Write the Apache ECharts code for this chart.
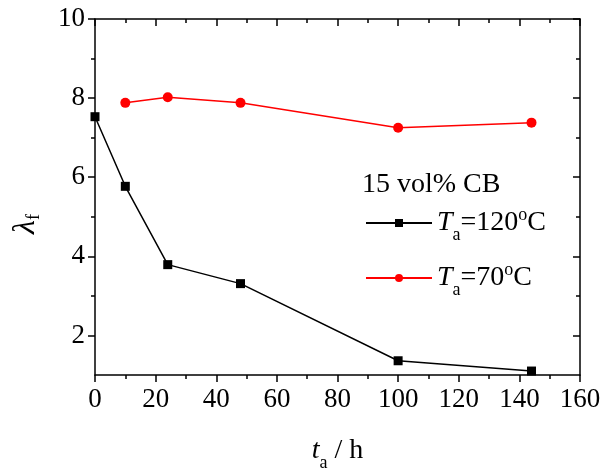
<!DOCTYPE html>
<html>
<head>
<meta charset="utf-8">
<script src="https://cdn.jsdelivr.net/npm/echarts@6/dist/echarts.min.js"></script>
<style>
    html, body {margin: 0; padding: 0; background: #fff;}
    #chart {width: 604px; height: 470px;}
</style>
</head>
<body>
<div id="chart"></div>
<script>
// annealing time t_a (h) and lambda_f
var ta120 = [0, 10, 24, 48, 100, 144];
var lam120 = [7.53, 5.77, 3.79, 3.31, 1.36, 1.1];
var ta70 = [10, 24, 48, 100, 144];
var lam70 = [7.88, 8.02, 7.88, 7.25, 7.38];
var yMajor = [2, 4, 6, 8, 10];
var yMinor = [3, 5, 7, 9];

function pairs(xs, ys) {
    return xs.map(function (x, i) { return [x, ys[i]]; });
}

var font = 'Liberation Serif';
var fs = 28;
var rich = {
    i: {fontFamily: font, fontSize: fs, fontStyle: 'italic', color: '#000'},
    n: {fontFamily: font, fontSize: fs, color: '#000'},
    s: {fontFamily: font, fontSize: 18, color: '#000', padding: [24, 0, 0, 0]},
    o: {fontFamily: font, fontSize: 18, color: '#000', padding: [0, 0, 16, 0]}
};

var chart = echarts.init(document.getElementById('chart'));
chart.setOption({
    animation: false,
    backgroundColor: '#fff',
    grid: {left: 95, right: 24, top: 19, bottom: 95, outerBoundsMode: 'none'},
    title: {
        text: '15 vol% CB', left: 357, top: 166,
        textStyle: {fontFamily: font, fontSize: fs, fontWeight: 'normal', color: '#000'}
    },
    legend: {
        orient: 'vertical', left: 360, top: 201, itemWidth: 66, itemHeight: 10, itemGap: 17,
        data: ['120', '70'],
        formatter: function (name) {
            return '{i|T}{s|a}{n|=' + name + '}{o|o}{n|C}';
        },
        textStyle: {rich: rich}
    },
    xAxis: [{
        type: 'value', min: 0, max: 160, interval: 20,
        name: '{i|t}{s|a}{n| / h}', nameLocation: 'middle', nameGap: 55,
        nameTextStyle: {rich: rich},
        axisLine: {lineStyle: {color: '#000', width: 1.5}},
        axisTick: {length: 7, lineStyle: {color: '#000', width: 1.5}},
        minorTick: {show: true, splitNumber: 2, length: 4, lineStyle: {color: '#000', width: 1.5}},
        axisLabel: {margin: 11, fontFamily: font, fontSize: 27, color: '#000'},
        splitLine: {show: false}
    }, {
        type: 'value', min: 0, max: 160, interval: 20, position: 'top',
        axisLine: {lineStyle: {color: '#000', width: 1.5}},
        axisTick: {inside: true, length: 7, lineStyle: {color: '#000', width: 1.5}},
        minorTick: {show: true, splitNumber: 2, length: 4, lineStyle: {color: '#000', width: 1.5}},
        axisLabel: {show: false},
        splitLine: {show: false}
    }],
    yAxis: [{
        type: 'value', min: 1, max: 10,
        name: '{l|λ}{s|f}', nameLocation: 'middle', nameRotate: 90, nameGap: 52,
        nameTextStyle: {
            padding: [0, 54, 0, 0],
            rich: {
                l: {fontFamily: font, fontSize: 32, fontStyle: 'italic', color: '#000'},
                s: {fontFamily: font, fontSize: 18, color: '#000', padding: [16, 0, 0, 0]}
            }
        },
        axisLine: {lineStyle: {color: '#000', width: 1.5}},
        axisTick: {customValues: yMajor, length: 7, lineStyle: {color: '#000', width: 1.5}},
        axisLabel: {customValues: yMajor, margin: 10, fontFamily: font, fontSize: 27, color: '#000'},
        splitLine: {show: false}
    }, {
        type: 'value', min: 1, max: 10, position: 'left',
        axisLine: {show: false},
        axisTick: {customValues: yMinor, length: 4, lineStyle: {color: '#000', width: 1.5}},
        axisLabel: {show: false},
        splitLine: {show: false}
    }, {
        type: 'value', min: 1, max: 10, position: 'right',
        axisLine: {lineStyle: {color: '#000', width: 1.5}},
        axisTick: {inside: true, customValues: yMajor, length: 7, lineStyle: {color: '#000', width: 1.5}},
        axisLabel: {show: false},
        splitLine: {show: false}
    }, {
        type: 'value', min: 1, max: 10, position: 'right',
        axisLine: {show: false},
        axisTick: {inside: true, customValues: yMinor, length: 4, lineStyle: {color: '#000', width: 1.5}},
        axisLabel: {show: false},
        splitLine: {show: false}
    }],
    series: [{
        name: '120', type: 'line', data: pairs(ta120, lam120),
        symbol: 'rect', symbolSize: 9,
        itemStyle: {color: '#000'}, lineStyle: {color: '#000', width: 1.5}
    }, {
        name: '70', type: 'line', data: pairs(ta70, lam70),
        symbol: 'circle', symbolSize: 10,
        itemStyle: {color: '#ff0000'}, lineStyle: {color: '#ff0000', width: 1.5}
    }]
});
</script>
</body>
</html>
